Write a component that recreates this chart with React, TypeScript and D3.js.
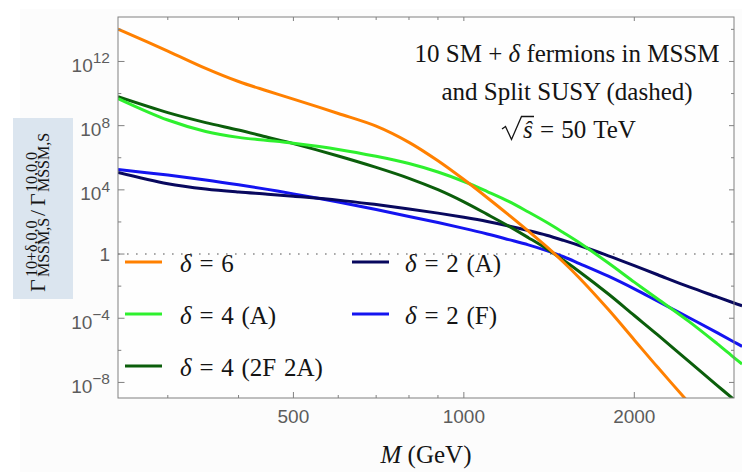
import React from "react";
import * as d3 from "d3";

// Heavy-fermion mass grid (GeV)
const massGeV = [
  245, 300, 350, 400, 450, 500, 600, 700, 800, 900, 1000, 1100, 1200, 1300,
  1400, 1500, 1600, 1800, 2000, 2200, 2500, 2800, 3000, 3100,
];

// log10 of the width ratio Γ(10+δ) / Γ(10) for each scenario, on massGeV
const delta6 = [
  14.02, 12.65, 11.57, 10.75, 10.16, 9.65, 8.76, 7.97, 6.96, 5.81, 4.64, 3.51,
  2.44, 1.43, 0.46, -0.51, -1.49, -3.46, -5.35, -7.06, -9.29,
];
const delta4A = [
  9.69, 8.35, 7.64, 7.27, 7.08, 6.9, 6.52, 6.09, 5.64, 5.11, 4.52, 3.89, 3.28,
  2.62, 1.98, 1.33, 0.7, -0.56, -1.75, -2.8, -4.21, -5.58, -6.45, -6.85,
];
const delta4Mixed = [
  9.8, 8.81, 8.19, 7.73, 7.28, 6.88, 6.11, 5.4, 4.72, 4.01, 3.25, 2.47, 1.74,
  1.02, 0.33, -0.39, -1.1, -2.49, -3.83, -5.04, -6.71, -8.18, -9.07,
];
const delta2A = [
  5.08, 4.38, 4.05, 3.86, 3.73, 3.6, 3.36, 3.08, 2.81, 2.55, 2.29, 2.03, 1.75,
  1.46, 1.17, 0.85, 0.53, -0.11, -0.72, -1.29, -2.05, -2.67, -3.05, -3.22,
];
const delta2F = [
  5.27, 4.92, 4.62, 4.32, 4.03, 3.75, 3.24, 2.77, 2.34, 1.96, 1.6, 1.25, 0.9,
  0.57, 0.21, -0.17, -0.59, -1.38, -2.17, -2.94, -3.97, -4.9, -5.48, -5.75,
];

const seriesNames = ["δ = 6", "δ = 4 (A)", "δ = 4 (2F 2A)", "δ = 2 (A)", "δ = 2 (F)"];
const seriesColors = ["#ff8000", "#2ef02e", "#0b5e0b", "#08085e", "#1414f0"];
const seriesData = [delta6, delta4A, delta4Mixed, delta2A, delta2F];

const xMajorTicks = [500, 1000, 2000];
const xMinorTicks = [300, 400, 600, 700, 800, 900];
const yLabelExponents = [12, 8, 4, 0, -4, -8];
const yMinorExponents = [14, 10, 6, 2, -2, -6];

const titleLines = ["10 SM + δ fermions in MSSM", "and Split SUSY (dashed)", "= 50 TeV"];

const W = 742;
const H = 472;
const L = 118;
const R = 734;
const T = 17;
const B = 398;

const SERIF = "'Liberation Serif', 'Times New Roman', serif";
const SANS = "'Liberation Sans', Arial, sans-serif";
const FRAME = "#808080";
const TICK_TEXT = "#5c5c5c";
const INK = "#141414";

export default function App() {
  const x = d3.scaleLog().domain([245, 3000]).range([L, R]);
  const y = d3
    .scaleLog()
    .domain([Math.pow(10, -8.97), Math.pow(10, 14.77)])
    .range([B, T]);

  const line = d3
    .line<[number, number]>()
    .x((d) => x(d[0]))
    .y((d) => y(Math.pow(10, d[1])))
    .curve(d3.curveCatmullRom.alpha(0.5));

  const paths = seriesData.map(
    (vals) => line(vals.map((v, i) => [massGeV[i], v] as [number, number])) || ""
  );
  const drawOrder = [4, 3, 2, 1, 0];

  const legendRows = [
    { idx: 0, col: 0, row: 0 },
    { idx: 1, col: 0, row: 1 },
    { idx: 2, col: 0, row: 2 },
    { idx: 3, col: 1, row: 0 },
    { idx: 4, col: 1, row: 1 },
  ];
  const legendLineX = [125, 352];
  const legendTextX = [180, 405];
  const legendY = [262, 314, 366];

  const superscript = (e: number) => (e < 0 ? "−" + Math.abs(e) : String(e));

  return (
    <svg
      width={W}
      height={H}
      viewBox={`0 0 ${W} ${H}`}
      style={{ position: "absolute", left: 0, top: 0, display: "block" }}
    >
      <rect x={0} y={0} width={W} height={H} fill="#ffffff" />
      <rect x={20} y={9} width={W - 20} height={H - 9} fill="#fcfcfc" />
      <rect x={L} y={T} width={R - L} height={B - T} fill="#fefefe" />

      <defs>
        <clipPath id="plotClip">
          <rect x={L} y={T} width={W - L} height={B - T} />
        </clipPath>
      </defs>

      {/* reference line at ratio = 1 */}
      <line
        x1={L}
        x2={R}
        y1={y(1)}
        y2={y(1)}
        stroke="#8c8c8c"
        strokeWidth={1.6}
        strokeDasharray="1.6 7.4"
      />

      <g clipPath="url(#plotClip)">
        {drawOrder.map((i) => (
          <path
            key={i}
            d={paths[i]}
            fill="none"
            stroke={seriesColors[i]}
            strokeWidth={3}
            strokeLinejoin="round"
          />
        ))}
      </g>

      {/* frame */}
      <rect x={L} y={T} width={R - L} height={B - T} fill="none" stroke={FRAME} strokeWidth={1} />

      {/* x ticks */}
      {xMajorTicks.map((t) => (
        <g key={"xM" + t}>
          <line x1={x(t)} x2={x(t)} y1={B} y2={B - 6} stroke={FRAME} />
          <line x1={x(t)} x2={x(t)} y1={T} y2={T + 4} stroke={FRAME} />
          <text
            x={x(t)}
            y={422.5}
            textAnchor="middle"
            fontFamily={SANS}
            fontSize={19}
            fill={TICK_TEXT}
          >
            {t}
          </text>
        </g>
      ))}
      {xMinorTicks.map((t) => (
        <g key={"xm" + t}>
          <line x1={x(t)} x2={x(t)} y1={B} y2={B - 3} stroke={FRAME} />
          <line x1={x(t)} x2={x(t)} y1={T} y2={T + 3} stroke={FRAME} />
        </g>
      ))}

      {/* y ticks */}
      {yLabelExponents.map((e) => {
        const yy = y(Math.pow(10, e));
        return (
          <g key={"yM" + e}>
            <line x1={L} x2={L + 6.5} y1={yy} y2={yy} stroke={FRAME} />
            <line x1={R} x2={R - 5} y1={yy} y2={yy} stroke={FRAME} />
            {e === 0 ? (
              <text
                x={110}
                y={yy + 6.5}
                textAnchor="end"
                fontFamily={SANS}
                fontSize={19}
                fill={TICK_TEXT}
              >
                1
              </text>
            ) : (
              <text
                x={110}
                y={yy + 10.5}
                textAnchor="end"
                fontFamily={SANS}
                fontSize={19}
                fill={TICK_TEXT}
              >
                10
                <tspan dy={-8.5} fontSize={15.5}>
                  {superscript(e)}
                </tspan>
              </text>
            )}
          </g>
        );
      })}
      {yMinorExponents.map((e) => {
        const yy = y(Math.pow(10, e));
        return (
          <g key={"ym" + e}>
            <line x1={L} x2={L + 3.3} y1={yy} y2={yy} stroke={FRAME} />
            <line x1={R} x2={R - 3} y1={yy} y2={yy} stroke={FRAME} />
          </g>
        );
      })}

      {/* axis titles */}
      <text x={426} y={463} textAnchor="middle" fontFamily={SERIF} fontSize={25} fill={INK}>
        <tspan fontStyle="italic">M</tspan> (GeV)
      </text>

      <rect x={13} y={118} width={60} height={181} fill="#dbe5ef" />
      <g transform="translate(45,208) rotate(-90)" fontFamily={SERIF} fill={INK}>
        <text x={-84} y={0} fontSize={22}>Γ</text>
        <text x={-69} y={-8} fontSize={16}>10+δ,0,0</text>
        <text x={-69} y={3.6} fontSize={16}>MSSM,S</text>
        <text x={-8} y={0} fontSize={22}>/</text>
        <text x={2} y={0} fontSize={22}>Γ</text>
        <text x={16} y={-8} fontSize={16}>10,0,0</text>
        <text x={16} y={3.6} fontSize={16}>MSSM,S</text>
      </g>

      {/* annotation */}
      <g fontFamily={SERIF} fontSize={25} fill={INK}>
        <text x={567} y={62.3} textAnchor="middle">
          10 SM + <tspan fontStyle="italic">δ</tspan> fermions in MSSM
        </text>
        <text x={567} y={100} textAnchor="middle">
          {titleLines[1]}
        </text>
        <path
          d="M502,129 L505.5,126.5 L511.5,139.5 L521.5,116.5 L534,116.5"
          fill="none"
          stroke={INK}
          strokeWidth={1.3}
          strokeLinejoin="miter"
        />
        <text x={523} y={138.3} fontStyle="italic">
          ŝ
        </text>
        <text x={540} y={138.3} wordSpacing={1}>
          {titleLines[2]}
        </text>
      </g>

      {/* legend */}
      {legendRows.map(({ idx, col, row }) => {
        const ly = legendY[row];
        const parts = seriesNames[idx].split(" = ");
        return (
          <g key={"lg" + idx}>
            <line
              x1={legendLineX[col]}
              x2={legendLineX[col] + 37}
              y1={ly}
              y2={ly}
              stroke={seriesColors[idx]}
              strokeWidth={3}
            />
            <text
              x={legendTextX[col]}
              y={ly + 10}
              fontFamily={SERIF}
              fontSize={25}
              fill={INK}
              wordSpacing={1.5}
            >
              <tspan fontStyle="italic">δ</tspan> = {parts[1]}
            </text>
          </g>
        );
      })}
    </svg>
  );
}
